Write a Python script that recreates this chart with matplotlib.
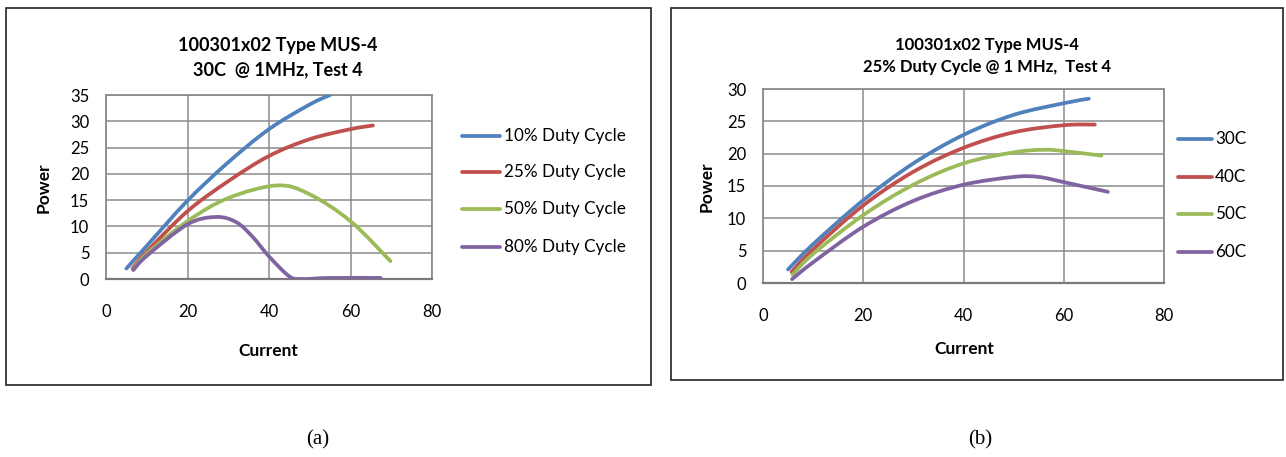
import matplotlib
matplotlib.use("Agg")
import matplotlib.pyplot as plt
from matplotlib.path import Path
from matplotlib.patches import PathPatch, Rectangle
from matplotlib.lines import Line2D

# ---- (a) 30C @ 1MHz, various duty cycles ----
current_10 = [5.0, 10, 20, 30, 40, 50, 55]
power_10 = [2.0, 6.3, 14.9, 22.2, 28.5, 33.2, 35.0]

current_25 = [6.5, 10, 20, 30, 40, 50, 60, 65.5]
power_25 = [2.0, 5.2, 12.9, 18.6, 23.4, 26.6, 28.5, 29.2]

current_50 = [6.7, 10, 20, 30, 42, 50, 60, 69.8]
power_50 = [1.8, 4.8, 11.0, 15.4, 17.8, 16.1, 11.0, 3.4]

current_80 = [6.7, 10, 20, 27, 32, 36, 40, 45, 48, 55, 67.4]
power_80 = [1.7, 4.4, 10.4, 11.8, 10.8, 8.0, 4.3, 0.5, 0.0, 0.2, 0.2]

labels_a = ["10% Duty Cycle", "25% Duty Cycle", "50% Duty Cycle", "80% Duty Cycle"]

# ---- (b) 25% duty cycle @ 1 MHz, various temperatures ----
current_30c = [5.0, 10, 20, 30, 40, 50, 60, 65]
power_30c = [2.1, 6.0, 12.8, 18.5, 22.9, 26.0, 27.8, 28.5]

current_40c = [5.7, 10, 20, 30, 40, 50, 60, 66.2]
power_40c = [1.7, 5.2, 12.0, 17.2, 20.9, 23.3, 24.4, 24.5]

current_50c = [5.9, 10, 20, 30, 40, 50, 56, 60, 67.5]
power_50c = [1.3, 4.5, 10.5, 15.2, 18.5, 20.2, 20.6, 20.4, 19.7]

current_60c = [5.8, 10, 20, 30, 40, 50, 55, 60, 68.8]
power_60c = [0.6, 3.2, 8.7, 12.7, 15.2, 16.4, 16.4, 15.6, 14.1]

labels_b = ["30C", "40C", "50C", "60C"]

x_ticks = [0, 20, 40, 60, 80]
y_ticks_a = [0, 5, 10, 15, 20, 25, 30, 35]
y_ticks_b = [0, 5, 10, 15, 20, 25, 30]

COLORS = ["#4F81BD", "#C0504D", "#9BBB59", "#8064A2"]
GRID = "#8C8C8C"
FONT = ["Lato", "DejaVu Sans"]

W, H = 1286, 457
fig = plt.figure(figsize=(W / 100, H / 100), dpi=100)
plt.rcParams["font.family"] = FONT


def fx(px):
    return px / W


def fy(py):
    return 1 - py / H


def smooth_path(xs, ys):
    """Bezier path through the points, in the style of a smoothed office chart line."""
    pts = list(zip(xs, ys))
    n = len(pts)
    verts = [pts[0]]
    codes = [Path.MOVETO]
    for i in range(n - 1):
        p0 = pts[i - 1] if i > 0 else pts[i]
        p1 = pts[i]
        p2 = pts[i + 1]
        p3 = pts[i + 2] if i + 2 < n else pts[i + 1]
        c1 = (p1[0] + (p2[0] - p0[0]) / 6, p1[1] + (p2[1] - p0[1]) / 6)
        c2 = (p2[0] - (p3[0] - p1[0]) / 6, p2[1] - (p3[1] - p1[1]) / 6)
        verts += [c1, c2, p2]
        codes += [Path.CURVE4] * 3
    return Path(verts, codes)


def make_chart(rect_px, series, labels, yticks, ymax, legend_px, title, title_px,
               xlabel_px, ylabel_px, title_size):
    x0, y0, x1, y1 = rect_px
    ax = fig.add_axes([fx(x0), fy(y1), fx(x1) - fx(x0), fy(y0) - fy(y1)])
    ax.set_xlim(0, 80)
    ax.set_ylim(0, ymax)
    ax.set_xticks(x_ticks)
    ax.set_yticks(yticks)
    ax.tick_params(length=0, labelsize=12, colors="black")
    ax.tick_params(axis="x", pad=18)
    ax.tick_params(axis="y", pad=12)
    ax.grid(True, color=GRID, linewidth=1.1)
    ax.set_axisbelow(True)
    for s in ax.spines.values():
        s.set_color(GRID)
        s.set_linewidth(1.3)
    ax.spines["bottom"].set_color("#7A7A7A")
    ax.spines["bottom"].set_linewidth(1.6)

    for (xs, ys), c in zip(series, COLORS):
        patch = PathPatch(smooth_path(xs, ys), fill=False, edgecolor=c,
                          linewidth=2.7, capstyle="round", joinstyle="round",
                          zorder=3)
        ax.add_patch(patch)

    fig.text(fx(title_px[0]), fy(title_px[1]), title, ha="center", va="center",
             fontsize=title_size, fontweight="bold", linespacing=1.5)
    fig.text(fx(xlabel_px[0]), fy(xlabel_px[1]), "Current", ha="center",
             va="center", fontsize=12.5, fontweight="bold")
    fig.text(fx(ylabel_px[0]), fy(ylabel_px[1]), "Power", ha="center",
             va="center", fontsize=12.5, fontweight="bold", rotation=90)

    lx0, lx1, ltx, rows = legend_px
    for c, lab, ry in zip(COLORS, labels, rows):
        fig.add_artist(Line2D([fx(lx0), fx(lx1)], [fy(ry), fy(ry)], color=c,
                              linewidth=2.7, solid_capstyle="round"))
        fig.text(fx(ltx), fy(ry), lab, ha="left", va="center", fontsize=12.3)
    return ax


# outer frames
fig.add_artist(Rectangle((fx(6), fy(385)), fx(651) - fx(6), fy(8) - fy(385),
                         transform=fig.transFigure, fill=False,
                         edgecolor="#222222", linewidth=1.2))
fig.add_artist(Rectangle((fx(671), fy(380)), fx(1283) - fx(671), fy(8) - fy(380),
                         transform=fig.transFigure, fill=False,
                         edgecolor="#222222", linewidth=1.2))

make_chart((106, 95, 432, 279),
           [(current_10, power_10), (current_25, power_25),
            (current_50, power_50), (current_80, power_80)],
           labels_a, y_ticks_a, 35,
           (462, 500, 504, [136, 172, 209, 247]),
           "100301x02 Type MUS-4\n30C  @ 1MHz, Test 4", (278, 58),
           (268, 351), (44, 188), 13)

make_chart((763, 89, 1164, 283),
           [(current_30c, power_30c), (current_40c, power_40c),
            (current_50c, power_50c), (current_60c, power_60c)],
           labels_b, y_ticks_b, 30,
           (1178, 1212, 1215, [139, 177, 214, 252]),
           "100301x02 Type MUS-4\n25% Duty Cycle @ 1 MHz,  Test 4", (987, 56),
           (964, 349), (707, 187), 12)

fig.text(fx(318), fy(440), "(a)", ha="center", va="center", fontsize=15,
         family=["Liberation Serif", "DejaVu Serif"])
fig.text(fx(980), fy(440), "(b)", ha="center", va="center", fontsize=15,
         family=["Liberation Serif", "DejaVu Serif"])

fig.savefig("out.png", dpi=100, facecolor="white")
